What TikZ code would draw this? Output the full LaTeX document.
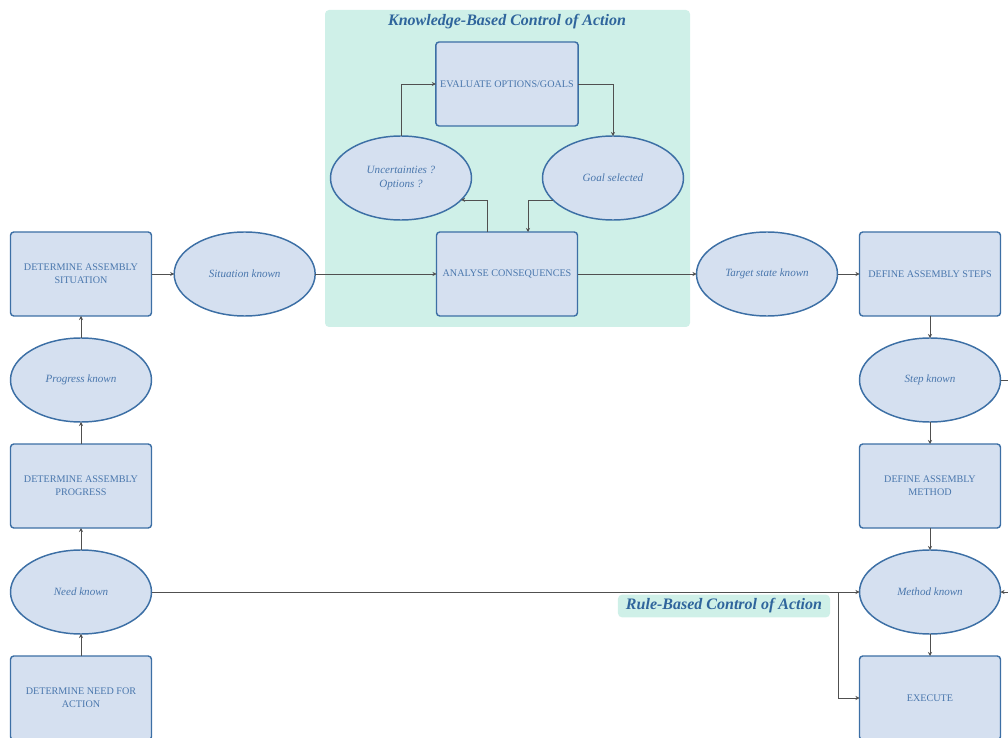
\documentclass[tikz,border=0pt]{standalone}
\usepackage{fontspec}
\setmainfont{Liberation Serif}
\usetikzlibrary{arrows.meta,positioning,calc,shapes.geometric}
\definecolor{Fill}{HTML}{D5E0F0}
\definecolor{Edge}{HTML}{3C6FA5}
\definecolor{Ink}{HTML}{4A77AD}
\definecolor{Mint}{HTML}{CFF0E8}
\definecolor{Heading}{HTML}{2F659C}
\definecolor{Wire}{HTML}{505050}

\begin{document}
\begin{tikzpicture}[x=0.75pt,y=-0.75pt,node distance=16.5pt,
    box/.style={draw=Edge,fill=Fill,line width=1.1pt,outer sep=0pt,rounded corners=2.5pt,minimum width=105.75pt,minimum height=63pt,align=center,text=Ink,font=\fontsize{7.6}{9.8}\selectfont},
    oval/.style={ellipse,draw=Edge,fill=Fill,line width=1.1pt,outer sep=0pt,minimum width=105.75pt,minimum height=63pt,inner sep=0pt,align=center,text=Ink,font=\fontsize{8.3}{10}\selectfont\itshape},
    tag/.style={text=Heading,font=\fontsize{12}{14}\selectfont\bfseries\itshape},
    a/.style={-{Stealth[length=3pt,width=3pt]},line width=0.5pt,draw=Wire}]
    \useasboundingbox (0,0) rectangle (1008,738);
    % knowledge-based panel
    \fill[Mint,rounded corners=3pt] (325,10) rectangle (690,327);
    \node[tag] (kb) at (507,22) {Knowledge-Based Control of Action};
    \node[box] (eval) at (507,84) {EVALUATE OPTIONS/GOALS};
    \node[oval] (unc) at (401,178) {Uncertainties ?\\Options ?};
    \node[oval] (goal) at (613,178) {Goal selected};
    \node[box] (ana) at (507,274) {ANALYSE CONSEQUENCES};
    % left column, bottom to top
    \node[box] (need) at (81,698) {DETERMINE NEED FOR\\ACTION};
    \node[oval,above=of need] (needk) {Need known};
    \node[box,above=of needk] (prog) {DETERMINE ASSEMBLY\\PROGRESS};
    \node[oval,above=of prog] (progk) {Progress known};
    \node[box,above=of progk] (sit) {DETERMINE ASSEMBLY\\SITUATION};
    \node[oval,right=17pt of sit] (sitk) {Situation known};
    % right column, top to bottom
    \node[oval] (targ) at (767,274) {Target state known};
    \node[box,right=of targ] (steps) {DEFINE ASSEMBLY STEPS};
    \node[oval,below=of steps] (stepk) {Step known};
    \node[box,below=of stepk] (meth) {DEFINE ASSEMBLY\\METHOD};
    \node[oval,below=of meth] (methk) {Method known};
    \node[box,below=of methk] (exec) {EXECUTE};
    % rule-based label
    \node[tag,fill=Mint,rounded corners=3pt,inner xsep=6pt,inner ysep=3pt] (rb) at (724,606) {Rule-Based Control of Action};
    \coordinate (split) at (838,592);
    \coordinate (offr) at (1020,380);
    \coordinate (inr) at (1020,592);
    % connectors
    \draw[a] (need) -- (needk);
    \draw[a] (needk) -- (prog);
    \draw[a] (prog) -- (progk);
    \draw[a] (progk) -- (sit);
    \draw[a] (sit) -- (sitk);
    \draw[a] (sitk) -- (ana);
    \draw[a] (ana) -- (targ);
    \draw[a] (targ) -- (steps);
    \draw[a] (steps) -- (stepk);
    \draw[a] (stepk) -- (meth);
    \draw[a] (meth) -- (methk);
    \draw[a] (methk) -- (exec);
    \draw[a] (needk.east) -- (methk.west);
    \draw[a] (split) |- (exec.west);
    \draw[draw=Wire,line width=0.5pt] (stepk.east) -- (offr);
    \draw[a] (inr) -- (methk.east);
    \draw[a] ([xshift=-15pt]ana.north) |- (unc.-20);
    \draw[a] (unc.north) |- (eval.west);
    \draw[a] (eval.east) -| (goal.north);
    \draw[a] (goal.200) -| ([xshift=15.75pt]ana.north);
\end{tikzpicture}
\end{document}
